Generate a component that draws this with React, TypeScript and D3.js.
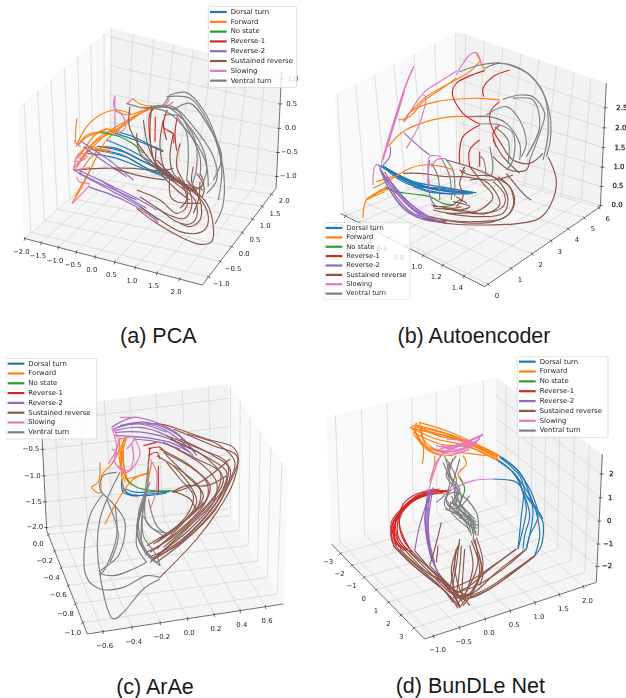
import React from "react";
import * as d3 from "d3";

type Pt = [number, number];
type Track = Pt[];

const stateNames = [
  "Dorsal turn",
  "Forward",
  "No state",
  "Reverse-1",
  "Reverse-2",
  "Sustained reverse",
  "Slowing",
  "Ventral turn",
];

// tracks are the projected curves (panel units, 939 x 1047)
const pcaDorsal: Track[] = [
  [[345,395],[400,410],[450,435],[490,452]],
  [[290,440],[350,445],[420,480],[490,510],[530,540]],
  [[300,452],[380,472],[450,510],[515,532]],
  [[320,420],[390,450],[460,490],[510,522]],
  [[262,460],[340,472],[420,502],[520,542]],
  [[300,440],[370,455],[450,495],[525,535]],
  [[345,400],[420,425],[490,455]],
  [[280,450],[360,462],[440,505],[510,528]],
];
const pcaForward: Track[] = [
  [[231,355],[230,432],[262,405],[300,396],[340,394],[400,350],[470,320]],
  [[228,440],[260,380],[300,345],[345,330],[392,340]],
  [[216,610],[240,570],[262,528],[290,470],[320,420],[380,370],[430,335],[465,320]],
  [[225,510],[250,470],[290,430],[330,392],[375,365],[420,340]],
  [[398,296],[420,312],[468,320]],
  [[240,480],[270,450],[330,452]],
  [[232,500],[262,450],[300,410],[345,388]],
  [[238,470],[285,405],[315,388],[345,392]],
  [[240,520],[270,475],[310,440],[330,440]],
  [[235,435],[262,410],[300,398],[320,385]],
  [[225,480],[255,445],[275,440],[300,450],[335,458]],
  [[250,480],[270,440],[310,410],[360,390]],
  [[345,332],[385,345],[420,335],[462,322]],
  [[225,590],[245,555],[270,510]],
];
const pcaNoState: Track[] = [
  [[300,397],[360,410],[400,432],[430,460]],
];
const pcaReverse1: Track[] = [
  [[470,320],[450,340],[448,400],[458,470]],
  [[502,330],[490,370],[500,420]],
  [[532,350],[525,400],[530,452]],
  [[466,350],[465,425]],
  [[492,358],[490,382],[520,402],[520,430]],
];
const pcaReverse2: Track[] = [
  [[235,520],[330,570],[420,620],[475,660]],
  [[235,510],[340,560],[420,600],[470,630]],
  [[220,510],[300,550],[410,600]],
  [[245,425],[290,455],[340,490],[400,540]],
  [[265,560],[370,600],[440,640],[475,668]],
  [[250,440],[320,490],[380,530]],
  [[300,540],[380,590],[440,625]],
];
const pcaSustained: Track[] = [
  [[390,320],[388,380],[420,440],[460,490],[520,540],[580,570],[620,610],[640,680],[635,725],[600,733],[540,710],[470,670],[410,625]],
  [[455,320],[450,400],[462,480],[510,530],[570,565],[610,610],[625,650],[618,685],[590,700],[540,695],[480,660],[420,620]],
  [[430,360],[445,440],[480,510],[540,560],[585,600],[590,650],[570,672],[530,665],[480,630],[420,590]],
  [[520,400],[510,470],[520,520],[565,565],[575,620],[555,655],[520,650],[470,625]],
  [[490,360],[480,440],[500,520],[550,560],[560,620],[530,640],[480,600],[410,570]],
  [[228,510],[300,505],[400,505],[480,512],[520,505]],
  [[535,530],[570,572],[610,552],[600,520]],
  [[510,520],[512,590],[530,605],[600,610]],
  [[470,480],[540,545],[580,560],[610,570]],
  [[600,545],[595,600],[580,640]],
  [[580,500],[575,545],[590,575]],
  [[410,400],[420,460],[475,510],[540,545],[590,575]],
  [[540,430],[530,500],[560,565],[560,600],[540,625]],
  [[470,440],[470,500],[530,570],[570,600]],
  [[590,520],[612,560],[605,590],[570,570],[545,560]],
  [[340,505],[430,530],[500,540]],
  [[560,540],[600,600],[600,660],[570,680],[540,670]],
];
const pcaSlowing: Track[] = [
  [[345,288],[342,320],[370,350],[375,385],[350,398],[345,330],[345,288]],
  [[380,312],[398,296]],
  [[217,610],[235,592],[268,552],[238,546],[230,530]],
  [[220,510],[238,460],[262,470],[232,490],[222,510],[250,505]],
  [[228,470],[250,480],[222,485]],
  [[222,425],[240,440]],
  [[500,320],[520,305]],
  [[225,510],[270,503]],
  [[510,295],[495,318]],
];
const pcaVentral: Track[] = [
  [[510,285],[560,278],[610,330],[650,420],[672,530],[668,620],[645,672]],
  [[380,310],[440,325],[500,320],[560,370],[610,450],[620,510],[600,570]],
  [[450,320],[520,320],[580,380],[640,470],[650,540],[620,580]],
  [[520,330],[570,310],[620,370],[665,470],[640,540]],
  [[490,345],[540,350],[585,420],[590,500],[575,560]],
  [[535,355],[560,400],[565,470],[560,540]],
  [[470,322],[530,330],[570,400],[600,470],[600,530]],
  [[510,285],[490,315]],
  [[430,322],[500,335],[555,385],[615,480],[625,560]],
  [[500,290],[570,295],[630,380],[665,500],[655,600]],
];

const aeDorsal: Track[] = [
  [[205,495],[260,530],[320,555],[400,570],[490,578]],
  [[215,500],[270,535],[330,560],[410,575],[480,580]],
  [[210,500],[260,540],[310,560],[360,563],[430,570]],
  [[195,495],[250,525],[300,545],[380,560],[470,575]],
  [[225,510],[280,545],[340,570],[400,580],[470,582]],
  [[240,525],[300,552],[370,570],[460,580]],
  [[220,505],[290,540],[370,568],[480,576]],
  [[300,560],[360,578],[430,582]],
];
const aeForward: Track[] = [
  [[150,655],[160,600],[200,575],[240,565]],
  [[180,565],[230,540],[280,510],[330,495],[390,500],[420,510]],
  [[225,440],[270,395],[340,365],[420,350],[470,350],[530,350]],
  [[270,365],[300,330],[370,305],[440,297],[500,295],[560,300]],
  [[255,360],[290,350],[330,305],[380,270],[430,235]],
  [[280,350],[340,290],[400,255],[470,215],[500,185]],
  [[490,160],[505,190],[515,210]],
  [[180,590],[215,565],[250,580]],
  [[160,600],[180,590],[215,575]],
  [[190,545],[240,530]],
];
const aeNoState: Track[] = [
  [[215,560],[250,575],[300,582],[350,590],[390,610],[420,615]],
];
const aeReverse1: Track[] = [
  [[590,210],[540,230],[510,265],[512,290]],
  [[515,212],[430,250],[418,280],[450,340],[500,372]],
  [[560,305],[535,330],[530,360],[545,400],[570,440]],
  [[500,375],[450,410],[440,450],[440,490]],
  [[560,375],[540,400],[550,440]],
  [[500,420],[470,450],[470,500]],
  [[500,455],[500,500]],
  [[455,500],[445,520]],
];
const aeReverse2: Track[] = [
  [[272,398],[330,450],[350,465]],
  [[232,440],[230,470],[205,500]],
  [[200,505],[230,570],[280,630],[340,660],[400,665]],
  [[205,510],[250,590],[300,640],[370,660]],
  [[210,520],[260,590],[320,640],[380,662]],
  [[220,530],[280,600],[340,650]],
  [[230,540],[290,610],[350,650]],
  [[350,480],[345,540],[355,600],[370,620]],
  [[200,500],[225,560],[270,625],[320,655],[390,668]],
  [[215,515],[270,600],[330,650],[400,670]],
  [[240,555],[300,625],[360,658]],
];
const aeSustained: Track[] = [
  [[330,655],[420,672],[520,675],[620,670],[680,655],[715,610],[730,540],[705,470]],
  [[380,660],[480,665],[570,655],[600,620],[590,560],[540,530],[470,500],[400,480]],
  [[400,640],[500,650],[570,640],[585,600],[570,560],[540,530],[470,525],[440,510]],
  [[420,630],[520,640],[560,615],[550,580],[510,540],[470,540]],
  [[360,630],[420,640],[500,630],[540,590],[510,550],[470,500]],
  [[360,620],[420,615],[440,600],[462,610],[430,590]],
  [[455,510],[440,550],[450,590],[430,620]],
  [[570,440],[600,480],[650,490],[690,460]],
  [[540,420],[570,470],[620,520]],
  [[270,520],[320,520],[400,530],[450,530],[540,540],[600,525]],
  [[580,520],[600,545],[640,590],[655,600]],
  [[420,605],[470,620],[440,630],[390,625]],
  [[350,650],[450,668],[540,665],[590,640],[605,600],[590,560],[555,530]],
  [[365,625],[440,630],[510,640],[570,620],[575,585],[540,545]],
  [[355,615],[420,625],[445,620]],
  [[650,480],[640,510],[590,510],[540,470]],
];
const aeSlowing: Track[] = [
  [[205,490],[225,420],[250,340],[280,250],[303,198]],
  [[210,480],[240,380],[270,280],[300,205]],
  [[212,470],[245,370],[275,270]],
  [[275,365],[330,280],[380,245],[432,212]],
  [[280,445],[320,370],[338,290],[330,285]],
  [[430,225],[470,165],[490,158],[505,190]],
  [[180,555],[185,500],[195,492]],
  [[350,560],[350,470],[385,470]],
  [[355,500],[370,480],[395,475]],
];
const aeVentral: Track[] = [
  [[515,205],[560,190],[630,210],[680,260],[710,340],[712,420],[700,470]],
  [[440,215],[500,195],[560,188]],
  [[570,298],[620,285],[660,290],[695,340],[680,400],[650,480]],
  [[520,345],[580,320],[620,360],[640,430],[625,470]],
  [[470,350],[530,350],[580,370],[620,430],[620,480]],
  [[500,372],[560,375],[600,400],[600,480],[580,510]],
  [[395,475],[420,510],[425,590]],
  [[385,475],[410,530],[415,600]],
  [[355,490],[375,530],[380,600]],
  [[500,470],[510,475],[520,530]],
  [[530,440],[540,500],[535,530]],
  [[580,192],[650,225],[695,290],[705,400],[690,480]],
  [[600,295],[660,300],[680,380],[640,470]],
  [[545,380],[585,420],[585,490]],
];

const arDorsal: Track[] = [
  [[365,390],[370,430],[410,440],[450,435],[500,430]],
  [[375,420],[410,430],[460,428],[510,428]],
  [[370,420],[395,440],[440,435]],
  [[365,400],[380,430],[430,440],[500,432]],
];
const arForward: Track[] = [
  [[300,340],[295,400],[275,415],[300,432],[305,380],[335,345],[360,300],[375,265]],
  [[375,270],[360,330],[380,390],[395,410]],
  [[365,300],[365,380],[370,415]],
  [[315,525],[350,460],[400,390],[450,370]],
  [[380,390],[440,375]],
  [[455,340],[440,420]],
  [[370,290],[372,350],[385,400]],
  [[360,265],[358,330],[375,400]],
  [[380,265],[368,320],[378,385]],
];
const arNoState: Track[] = [
  [[375,385],[410,415],[460,425],[515,425]],
];
const arReverse1: Track[] = [
  [[440,225],[480,225],[520,235]],
  [[430,290],[470,280]],
  [[445,300],[480,295],[500,320]],
  [[445,320],[470,310],[480,330]],
  [[475,350],[475,430]],
  [[450,295],[445,345]],
];
const arReverse2: Track[] = [
  [[335,235],[400,205],[480,225],[540,260],[590,320]],
  [[340,240],[410,222],[490,240],[570,300]],
  [[340,245],[420,235],[500,260],[570,310]],
  [[345,260],[430,265],[510,280],[570,310]],
  [[400,270],[480,280],[540,300]],
  [[350,235],[420,225],[500,250]],
  [[345,250],[430,250],[520,275],[580,320]],
  [[360,230],[440,220],[530,255],[585,310]],
];
const arSustained: Track[] = [
  [[520,235],[620,270],[700,295],[715,330],[680,420],[640,490],[560,570],[470,640]],
  [[520,240],[640,290],[710,320],[700,400],[650,490],[590,570],[480,685]],
  [[500,260],[600,300],[680,340],[680,400],[640,460],[560,540],[450,640]],
  [[490,280],[590,330],[660,370],[650,430],[590,500],[510,570],[440,610]],
  [[480,300],[570,350],[620,400],[620,450],[560,510],[480,570]],
  [[470,320],[550,370],[600,420],[590,480],[520,540],[440,590]],
  [[500,340],[540,390],[580,440],[560,500],[470,580]],
  [[515,430],[560,410],[620,410],[680,380]],
  [[515,425],[570,450],[590,480],[610,460]],
  [[540,270],[640,320],[690,360],[670,440],[610,520],[530,590],[450,630]],
  [[530,300],[610,350],[650,400],[640,460],[570,540],[470,620]],
  [[560,255],[660,290],[705,340],[680,410],[620,500],[540,580],[455,635]],
  [[540,285],[630,330],[680,370],[660,440],[600,520],[520,590],[445,625]],
  [[510,270],[610,320],[670,390],[640,450],[570,525],[490,595]],
  [[490,310],[580,360],[630,410],[610,470],[530,550],[450,610]],
  [[500,320],[560,380],[610,440],[560,510],[470,600]],
  [[520,350],[570,410],[590,460],[540,530],[460,585]],
  [[520,430],[600,400],[690,330]],
];
const arSlowing: Track[] = [
  [[360,205],[420,205]],
  [[335,235],[350,290],[345,340],[380,370],[410,340],[420,310],[400,260]],
  [[450,330],[470,370],[465,440],[450,480]],
  [[340,240],[355,270],[350,300],[325,345]],
  [[360,270],[405,265],[380,300]],
  [[395,285],[400,330],[385,365],[355,350]],
  [[335,300],[350,310],[340,340]],
];
const arVentral: Track[] = [
  [[310,435],[270,500],[258,680],[300,720],[370,715],[440,680],[480,685]],
  [[350,370],[310,380],[300,420],[345,470],[375,520],[355,620],[300,670],[340,680],[400,660],[440,640]],
  [[360,370],[300,510],[295,640],[340,810],[370,790],[430,720],[480,690]],
  [[320,450],[355,560],[330,640]],
  [[445,340],[440,430],[415,520],[410,590],[440,640]],
  [[440,430],[425,520],[430,600],[480,650]],
  [[435,450],[410,540],[440,620]],
  [[445,450],[470,530],[500,555]],
  [[430,500],[460,540],[520,555]],
  [[440,420],[415,500],[430,590],[470,640]],
  [[450,400],[420,490],[415,570],[450,625]],
  [[430,470],[430,560],[470,620],[480,650]],
  [[445,350],[435,450],[440,520],[490,560]],
  [[345,470],[350,560],[320,650],[300,680]],
];

const bunDorsal: Track[] = [
  [[560,322],[610,360],[655,430],[680,500],[690,520],[685,590],[665,620]],
  [[560,325],[620,380],[640,440],[675,500],[650,560],[640,600]],
  [[555,335],[610,380],[630,430],[640,480],[625,560],[615,600]],
  [[540,390],[610,400],[630,430],[625,500],[615,600]],
  [[600,370],[650,440],[660,490],[640,600]],
  [[565,325],[620,370],[650,435],[670,490],[680,560],[665,620]],
  [[550,330],[600,370],[635,440],[650,500],[635,560],[630,600]],
  [[625,420],[665,470],[690,510]],
];
const bunForward: Track[] = [
  [[295,230],[340,240],[420,260],[500,295],[560,322]],
  [[318,220],[400,245],[480,280],[560,320]],
  [[305,240],[400,260],[480,290],[555,325]],
  [[300,250],[380,285],[470,295],[555,335]],
  [[295,235],[330,290],[328,345]],
  [[310,220],[310,260],[340,300],[385,320]],
  [[320,220],[330,270],[380,310]],
  [[365,320],[365,345],[355,385]],
  [[450,320],[460,345],[435,375],[450,400]],
  [[410,430],[380,425]],
  [[290,235],[350,250],[430,270],[510,305],[555,330]],
  [[312,230],[390,250],[470,285],[555,322]],
  [[300,240],[370,270],[460,290],[545,330]],
  [[305,225],[375,260],[450,275],[540,310]],
  [[300,255],[350,300],[440,310],[520,320]],
  [[325,235],[340,290],[395,305]],
  [[315,265],[360,310],[420,320]],
];
const bunNoState: Track[] = [
  [[440,385],[455,420],[440,470],[440,505],[470,515],[480,555]],
];
const bunReverse1: Track[] = [
  [[410,425],[350,430],[280,470],[240,520],[235,570],[250,600]],
  [[400,425],[330,435],[270,480],[245,530],[250,580],[300,610]],
  [[390,430],[310,450],[260,495],[240,525],[265,590],[285,600]],
  [[380,420],[320,435],[265,480],[235,520],[240,580]],
  [[370,425],[300,450],[262,490],[255,560],[280,600]],
  [[360,430],[290,465],[260,510],[270,570],[300,610]],
  [[405,428],[340,432],[285,465],[250,510],[245,575],[275,605]],
  [[395,432],[320,440],[275,475],[248,515],[255,575]],
  [[375,432],[310,445],[270,478],[238,530],[250,590]],
  [[365,420],[300,440],[268,470],[260,530],[290,600]],
  [[355,435],[295,455],[265,490],[240,550],[265,600]],
];
const bunReverse2: Track[] = [
  [[345,420],[338,500],[345,580],[360,640],[375,670]],
  [[350,425],[345,500],[350,580],[365,640]],
  [[355,420],[340,480],[340,560],[355,630]],
  [[360,415],[350,480],[345,540],[355,620]],
  [[345,450],[320,530],[305,605]],
  [[370,460],[395,440]],
  [[348,435],[335,510],[350,600],[368,655]],
  [[352,430],[342,520],[352,610],[372,665]],
];
const bunSustained: Track[] = [
  [[235,570],[280,630],[340,680],[400,730],[435,778]],
  [[250,600],[310,650],[380,710],[420,760]],
  [[265,590],[330,660],[410,720],[440,770]],
  [[280,600],[340,650],[400,700],[450,750]],
  [[300,610],[350,660],[420,720],[470,740]],
  [[440,570],[430,650],[420,720],[440,775]],
  [[490,565],[510,650],[480,720],[440,775]],
  [[480,570],[505,650],[490,710],[450,750]],
  [[445,590],[440,660],[430,740]],
  [[470,590],[480,650],[460,730]],
  [[430,600],[420,670],[410,720]],
  [[665,620],[580,680],[500,730],[440,740],[420,730]],
  [[640,600],[570,660],[490,710],[430,730]],
  [[610,600],[540,650],[480,690],[410,720]],
  [[665,620],[600,670],[530,720],[470,745]],
  [[385,520],[365,600],[350,650]],
  [[375,590],[370,640]],
  [[240,590],[290,640],[350,690],[410,740],[440,775]],
  [[260,600],[320,655],[390,700],[430,750]],
  [[290,610],[350,670],[410,730],[460,755]],
  [[305,605],[370,680],[430,740],[480,730]],
  [[350,650],[400,700],[450,760]],
  [[375,670],[410,720],[440,770]],
  [[440,580],[425,640],[440,720],[470,770]],
  [[485,570],[495,640],[470,710],[430,770]],
  [[475,575],[500,660],[480,730],[450,770]],
  [[455,600],[450,670],[445,750]],
  [[490,610],[510,670],[500,710]],
  [[435,590],[415,660],[425,730]],
  [[640,600],[550,670],[490,725],[440,750]],
  [[610,600],[530,660],[470,710],[420,735]],
  [[665,622],[560,700],[480,745],[420,745]],
];
const bunSlowing: Track[] = [
  [[510,255],[470,275],[420,300],[385,320],[360,380],[345,430]],
  [[510,258],[440,285],[380,300]],
  [[400,270],[470,275]],
  [[385,310],[480,290],[500,265]],
  [[540,390],[480,395],[420,420],[390,440]],
  [[355,300],[420,315],[470,300]],
  [[370,290],[440,300],[490,275]],
  [[505,262],[450,285],[400,305],[370,340],[350,400]],
  [[365,305],[440,305],[500,270]],
  [[480,280],[420,295],[385,290]],
  [[420,318],[470,300]],
];
const bunVentral: Track[] = [
  [[395,320],[420,400],[435,430],[420,460],[470,510],[490,560]],
  [[430,320],[405,370],[440,420],[420,480],[480,520],[480,570]],
  [[410,340],[400,380],[430,430],[410,480],[470,540]],
  [[400,440],[430,430],[490,490],[495,560]],
  [[395,480],[440,500],[490,550]],
  [[435,440],[430,480],[475,530]],
  [[410,460],[450,480],[475,560]],
  [[400,330],[430,390],[425,440],[470,500],[490,540]],
  [[420,330],[410,380],[445,440],[440,480],[495,530]],
  [[390,340],[410,400],[400,450],[430,490],[480,540]],
  [[440,330],[420,400],[400,460],[450,500]],
  [[405,430],[395,470],[450,510],[470,550]],
  [[430,430],[440,460],[485,510]],
  [[470,440],[445,470],[420,480]],
  [[415,440],[440,480],[490,520]],
];

const pcaTracks = [pcaDorsal, pcaForward, pcaNoState, pcaReverse1, pcaReverse2, pcaSustained, pcaSlowing, pcaVentral];
const aeTracks = [aeDorsal, aeForward, aeNoState, aeReverse1, aeReverse2, aeSustained, aeSlowing, aeVentral];
const arTracks = [arDorsal, arForward, arNoState, arReverse1, arReverse2, arSustained, arSlowing, arVentral];
const bunTracks = [bunDorsal, bunForward, bunNoState, bunReverse1, bunReverse2, bunSustained, bunSlowing, bunVentral];

const pcaXTicks = [-2, -1.5, -1, -0.5, 0, 0.5, 1, 1.5, 2];
const pcaYTicks = [-1, -0.5, 0, 0.5, 1, 1.5, 2];
const pcaZTicks = [-1, -0.5, 0, 0.5, 1];
const aeXTicks = [0, 0.2, 0.4, 0.6, 0.8, 1, 1.2, 1.4];
const aeYTicks = [0, 1, 2, 3, 4, 5, 6];
const aeZTicks = [0, 0.5, 1, 1.5, 2, 2.5];
const arXTicks = [-0.6, -0.4, -0.2, 0, 0.2, 0.4, 0.6];
const arYTicks = [-1, -0.8, -0.6, -0.4, -0.2, 0];
const arZTicks = [-2, -1.5, -1, -0.5, 0];
const bunXTicks = [-3, -2, -1, 0, 1, 2, 3];
const bunYTicks = [-1, -0.5, 0, 0.5, 1, 1.5, 2];
const bunZTicks = [-2, -1, 0, 1, 2];

const PANEL_W = 939;
const PANEL_H = 1047;

const panels = [
  {
    title: "(a) PCA", ox: 0, oy: 0, titleX: 475, titleY: 1028, tracks: pcaTracks,
    floor: [[72,715],[607,855],[828,565],[328,490]] as Pt[],
    backTop: [[332,85],[845,215]] as Pt[], sideTop: [52,325] as Pt, side: 0,
    xLim: [-2.02,2.48], yLim: [-1.25,2.25], zLim: [-1.25,1.15],
    xTicks: pcaXTicks, yTicks: pcaYTicks, zTicks: pcaZTicks, fmt: ".1f",
    xOff: [-10,40], yOff: [38,22], zOff: [35,0], zHeavy: false,
    legend: { x: 625, y: 20, w: 265, h: 242, size: 6.9 },
  },
  {
    title: "(b) Autoencoder", ox: 313, oy: 0, titleX: 483, titleY: 1028, tracks: aeTracks,
    floor: [[82,640],[515,860],[862,620],[435,495]] as Pt[],
    backTop: [[435,95],[880,250]] as Pt[], sideTop: [65,285] as Pt, side: 0,
    xLim: [-0.08,1.58], yLim: [-0.15,6.1], zLim: [-0.03,3.1],
    xTicks: aeXTicks, yTicks: aeYTicks, zTicks: aeZTicks, fmt: ".1f", yFmt: "d",
    xOff: [-20,35], yOff: [26,35], zOff: [50,0], zHeavy: true,
    legend: { x: 33, y: 668, w: 258, h: 232, size: 6.7 },
  },
  {
    title: "(c) ArAe", ox: 0, oy: 349, titleX: 465, titleY: 1035, tracks: arTracks,
    floor: [[262,855],[850,765],[685,490],[140,545]] as Pt[],
    backTop: [[122,180],[685,105]] as Pt[], sideTop: [865,370] as Pt, side: 1,
    xLim: [-0.706,0.745], yLim: [-1.116,0.047], zLim: [-2.06,0.25],
    xTicks: arXTicks, yTicks: arYTicks, zTicks: arZTicks, fmt: ".1f",
    xOff: [5,44], yOff: [-30,30], zOff: [-35,0], zHeavy: false,
    legend: { x: 18, y: 28, w: 272, h: 242, size: 6.9 },
  },
  {
    title: "(d) BunDLe Net", ox: 313, oy: 349, titleX: 472, titleY: 1033, tracks: bunTracks,
    floor: [[55,585],[335,870],[850,700],[548,440]] as Pt[],
    backTop: [[548,85],[868,315]] as Pt[], sideTop: [40,205] as Pt, side: 0,
    xLim: [-3.82,3.82], yLim: [-1.17,2.27], zLim: [-2.72,2.82],
    xTicks: bunXTicks, yTicks: bunYTicks, zTicks: bunZTicks, fmt: ".1f", xFmt: "d", zFmt: "d",
    xOff: [-38,27], yOff: [12,43], zOff: [30,0], zHeavy: true,
    legend: { x: 613, y: 22, w: 272, h: 243, size: 6.9 },
  },
];

const stateColor = d3.scaleOrdinal<string, string>(stateNames, d3.schemeCategory10);

// maps the unit square onto a quad, corners in (0,0) (1,0) (1,1) (0,1) order
function quadMap(q: Pt[]) {
  const [[x0, y0], [x1, y1], [x2, y2], [x3, y3]] = q;
  const dx1 = x1 - x2, dx2 = x3 - x2, sx = x0 - x1 + x2 - x3;
  const dy1 = y1 - y2, dy2 = y3 - y2, sy = y0 - y1 + y2 - y3;
  const den = dx1 * dy2 - dx2 * dy1;
  const g = (sx * dy2 - dx2 * sy) / den;
  const h = (dx1 * sy - sx * dy1) / den;
  const a = x1 - x0 + g * x1, b = x3 - x0 + h * x3;
  const d = y1 - y0 + g * y1, e = y3 - y0 + h * y3;
  return (u: number, v: number): Pt => {
    const w = g * u + h * v + 1;
    return [(a * u + b * v + x0) / w, (d * u + e * v + y0) / w];
  };
}

// minus sign like matplotlib's tick labels
const tickText = (value: number, fmt: string) => d3.format(fmt)(value).replace("-", "\u2212");

function Panel({ p }: { p: (typeof panels)[number] }) {
  const sx = d3.scaleLinear().domain([0, PANEL_W]).range([p.ox, p.ox + PANEL_W / 3]);
  const sy = d3.scaleLinear().domain([0, PANEL_H]).range([p.oy, p.oy + PANEL_H / 3]);
  const px = (pt: Pt): Pt => [sx(pt[0]), sy(pt[1])];
  const path = d3.line<Pt>().x((d) => sx(d[0])).y((d) => sy(d[1])).curve(d3.curveCatmullRom.alpha(0.5));
  const poly = d3.line<Pt>().x((d) => sx(d[0])).y((d) => sy(d[1]));

  const [A, B, C, D] = p.floor;
  const [Dt, Ct] = p.backTop;
  const floor = quadMap(p.floor);
  const back = quadMap([D, C, Ct, Dt]);
  const sideQuad: Pt[] = p.side === 0 ? [A, D, Dt, p.sideTop] : [B, C, Ct, p.sideTop];
  const side = quadMap(sideQuad);
  const axisU = 1 - p.side;

  const u = d3.scaleLinear().domain(p.xLim).range([0, 1]);
  const v = d3.scaleLinear().domain(p.yLim).range([0, 1]);
  const w = d3.scaleLinear().domain(p.zLim).range([0, 1]);

  const grid: Pt[][] = [
    ...p.xTicks.flatMap((t) => [[floor(u(t), 0), floor(u(t), 1), back(u(t), 1)]]),
    ...p.yTicks.flatMap((t) => [[floor(0, v(t)), floor(1, v(t))], [floor(p.side, v(t)), side(v(t), 1)]]),
    ...p.zTicks.flatMap((t) => [[back(axisU, w(t)), back(1 - axisU, w(t)), side(1, w(t))]]),
  ];

  const axes = [
    { ticks: p.xTicks, at: (t: number) => floor(u(t), 0), off: p.xOff, fmt: (p as any).xFmt ?? p.fmt, line: [A, B], heavy: false },
    { ticks: p.yTicks, at: (t: number) => floor(axisU, v(t)), off: p.yOff, fmt: (p as any).yFmt ?? p.fmt, line: p.side === 0 ? [B, C] : [A, D], heavy: false },
    { ticks: p.zTicks, at: (t: number) => back(axisU, w(t)), off: p.zOff, fmt: (p as any).zFmt ?? p.fmt, line: p.side === 0 ? [C, Ct] : [D, Dt], heavy: p.zHeavy },
  ];

  const rowGap = (p.legend.h - 14) / 7.75;
  const legendY = d3.scaleLinear().domain([0, 1]).range([p.legend.y + 16, p.legend.y + 16 + rowGap]);

  return (
    <g>
      <g filter="url(#soft)">
        <path d={poly([...p.floor, A])!} fill="#f5f5f5" />
        <path d={poly([D, C, Ct, Dt, D])!} fill="#f2f2f2" />
        <path d={poly([...sideQuad, sideQuad[0]])!} fill="#f9f9f9" />
        {grid.map((g, i) => (
          <path key={i} d={poly(g)!} fill="none" stroke="#d2d2d2" strokeWidth={0.7} />
        ))}
        {axes.map((axis, i) => (
          <g key={i}>
            <path d={poly(axis.line as Pt[])!} fill="none" stroke="#333" strokeWidth={0.7} />
            {axis.ticks.map((t) => {
              const [x, y] = axis.at(t);
              const len = Math.hypot(axis.off[0], axis.off[1]);
              const nx = axis.off[0] / len, ny = axis.off[1] / len;
              const [x1, y1] = px([x - nx * 5, y - ny * 5]);
              const [x2, y2] = px([x + nx * 7, y + ny * 7]);
              const [lx, ly] = px([x + axis.off[0], y + axis.off[1]]);
              return (
                <g key={t}>
                  <line x1={x1} y1={y1} x2={x2} y2={y2} stroke="#333" strokeWidth={0.7} />
                  <text
                    x={lx}
                    y={ly}
                    textAnchor="middle"
                    dominantBaseline="middle"
                    fontFamily="DejaVu Sans"
                    fontSize={6.9}
                    fill="#262626"
                    stroke={axis.heavy ? "#262626" : "none"}
                    strokeWidth={0.25}
                  >
                    {tickText(t, axis.fmt)}
                  </text>
                </g>
              );
            })}
          </g>
        ))}
        {p.tracks.map((tracks, s) =>
          tracks.map((track, i) => (
            <path
              key={`${s}-${i}`}
              d={path(track)!}
              fill="none"
              stroke={stateColor(stateNames[s])}
              strokeWidth={1.15}
              strokeLinejoin="round"
            />
          ))
        )}
        <rect
          x={sx(p.legend.x)}
          y={sy(p.legend.y)}
          width={p.legend.w / 3}
          height={p.legend.h / 3}
          rx={1.3}
          fill="#fff"
          fillOpacity={0.8}
          stroke="#d4d4d4"
          strokeWidth={0.7}
        />
        {stateNames.map((name, i) => (
          <g key={name}>
            <line
              x1={sx(p.legend.x + 5)}
              x2={sx(p.legend.x + 55)}
              y1={sy(legendY(i))}
              y2={sy(legendY(i))}
              stroke={stateColor(name)}
              strokeWidth={2.2}
            />
            <text
              x={sx(p.legend.x + 67)}
              y={sy(legendY(i))}
              dominantBaseline="middle"
              fontFamily="DejaVu Sans"
              fontSize={p.legend.size}
              fill="#262626"
            >
              {name}
            </text>
          </g>
        ))}
      </g>
      <text
        x={sx(p.titleX)}
        y={sy(p.titleY)}
        textAnchor="middle"
        fontFamily="Liberation Sans"
        fontSize={21.5}
        fill="#1a1a1a"
      >
        {p.title}
      </text>
    </g>
  );
}

export default function App() {
  return (
    <svg width={626} height={698} style={{ position: "absolute", left: 0, top: 0, background: "#fff" }}>
      <defs>
        <filter id="soft" x="0" y="0" width="1" height="1" filterUnits="objectBoundingBox">
          <feGaussianBlur stdDeviation={0.4} />
        </filter>
      </defs>
      {panels.map((p) => (
        <Panel key={p.title} p={p} />
      ))}
    </svg>
  );
}
